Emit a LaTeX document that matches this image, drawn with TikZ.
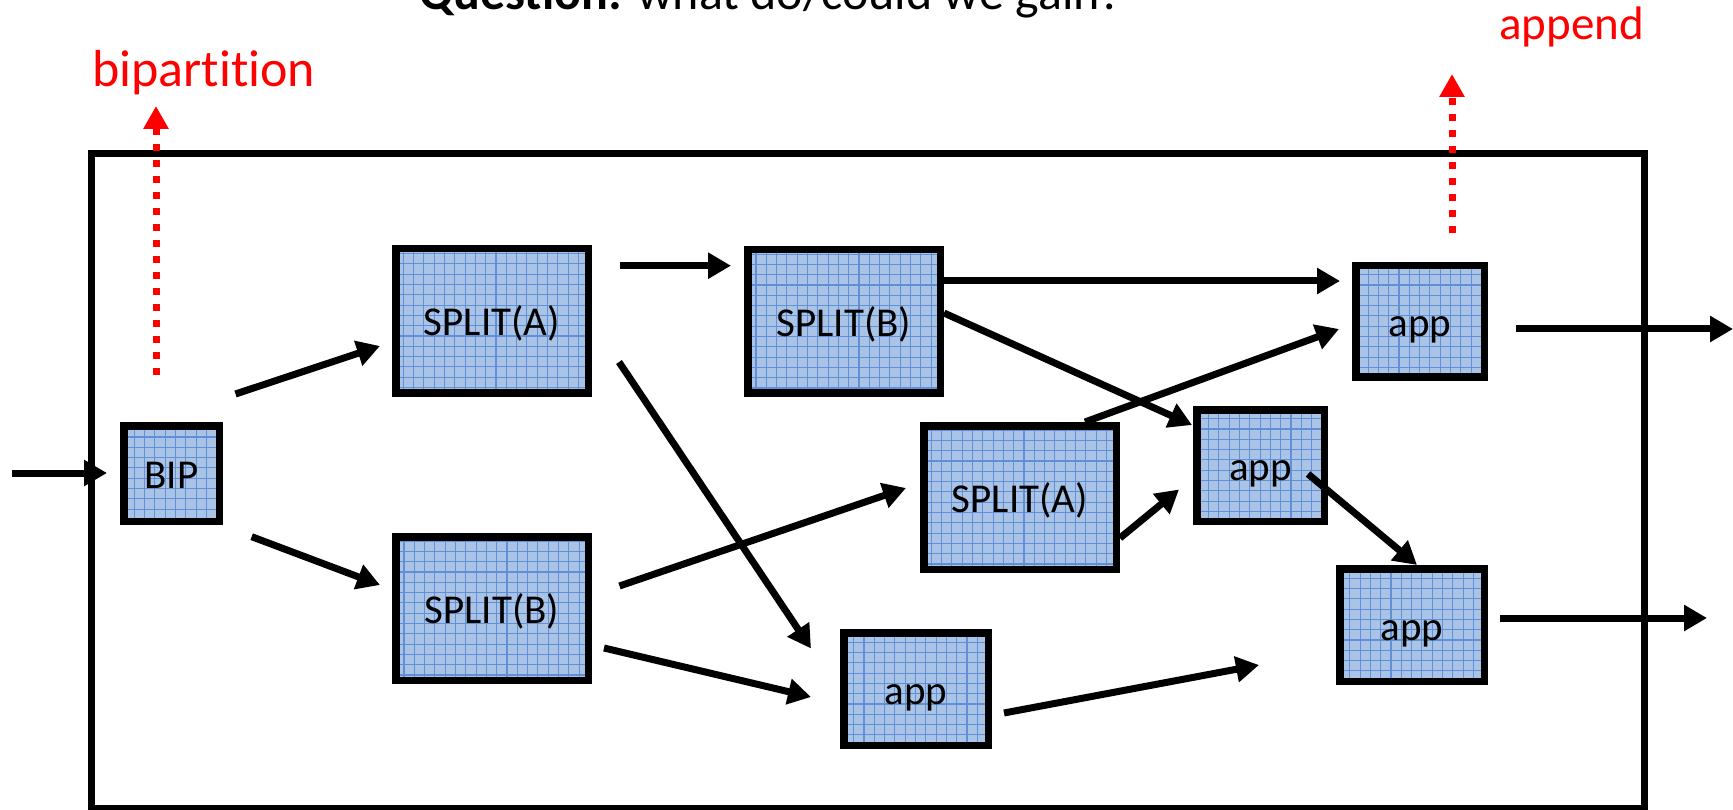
\documentclass[tikz,border=0pt]{standalone}
\usepackage{fontspec}
\setmainfont{Carlito}[Ligatures=NoCommon]
\usetikzlibrary{arrows.meta}
\definecolor{boxfill}{RGB}{170,196,231}
\definecolor{boxgrid}{RGB}{98,144,212}
\begin{document}
\begin{tikzpicture}[x=1pt,y=-1pt,
  opbox/.style={draw=black, line width=7.5pt, fill=boxfill, inner sep=0pt,
    font=\fontsize{41}{41}\selectfont, text height=38pt, text depth=8pt,
    path picture={\draw[boxgrid, line width=1.1pt, step=10.3pt]
      (path picture bounding box.south west) grid (path picture bounding box.north east);}},
  splitbox/.style={opbox, minimum width=192.5pt, minimum height=143.5pt},
  appbox/.style={opbox, minimum width=144.5pt, minimum height=112.5pt},
  flow/.style={line width=7pt, -{Triangle[length=23pt,width=25pt]}},
  hint/.style={red, line width=7pt, dash pattern=on 7pt off 9pt,
    -{Triangle[length=23pt,width=24pt]}},
  note/.style={red, inner sep=0pt, anchor=base west}]

% canvas
\useasboundingbox (0,0) rectangle (1733,810);
\fill[white] (0,0) rectangle (1733,810);

% heading, running off the top edge
\node[anchor=base west, inner sep=0pt, font=\fontsize{50}{50}\selectfont] (question)
  at (419,9.5) {\textbf{Question:} what do/could we gain?};

% enclosing frame
\draw[line width=7.5pt] (91.5,153.5) rectangle (1644.5,808.5);

% operator boxes
\node[opbox, minimum width=95.5pt, minimum height=95.5pt] (bip) at (171.5,473.5) {BIP};
\node[splitbox, minimum height=144.5pt] (sa1) at (492,321) {SPLIT(A)};
\node[splitbox] (sb1) at (844,321.5) {SPLIT(B)};
\node[splitbox] (sb2) at (492,608.5) {SPLIT(B)};
\node[splitbox] (sa2) at (1020,497.5) {SPLIT(A)};
\node[opbox, minimum width=127.5pt, minimum height=111.5pt] (appm) at (1260.5,465.5) {app};
\node[opbox, minimum width=128.5pt, minimum height=111.5pt] (apptr) at (1420,321.5) {app};
\node[appbox] (appbr) at (1412,625) {app};
\node[appbox] (appb) at (916,689) {app};

% data flow
\coordinate (inlet) at (12,473);
\draw[flow] (inlet) -- ([shift={(-13,-0.5)}]bip.west);
\draw[flow] ([shift={(12.5,-28)}]bip.north east) -- ([shift={(-12,25)}]sa1.west);
\draw[flow] ([shift={(28.7,11.7)}]bip.south east) -- ([shift={(-12,-23.5)}]sb2.west);
\draw[flow] ([shift={(27.5,20.7)}]sa1.north east) -- ([shift={(-13,19.7)}]sb1.north west);
\draw[flow] ([shift={(27,41)}]sa1.east) -- ([shift={(-29,19.5)}]appb.north west);
\draw[flow] ([shift={(0,35)}]sb1.north east) -- ([shift={(-12,19)}]apptr.north west);
\draw[flow] ([shift={(0,-8.5)}]sb1.east) -- ([shift={(-1,19)}]appm.north west);
\draw[flow] ([shift={(65,0)}]sa2.north) -- ([shift={(-13,7.5)}]apptr.west);
\draw[flow] ([shift={(0,40.5)}]sa2.east) -- ([shift={(-14,24)}]appm.west);
\draw[flow] ([shift={(47.5,8.5)}]appm.center) -- ([shift={(5,0)}]appbr.north);
\draw[flow] ([shift={(27.5,-22.5)}]sb2.east) -- ([shift={(-14,-9.5)}]sa2.west);
\draw[flow] ([shift={(12,39.5)}]sb2.east) -- ([shift={(-29,8)}]appb.west);
\coordinate (loose) at (1259,665);
\draw[flow] ([shift={(12,24)}]appb.east) -- (loose);
\coordinate (outtop) at (1733,329);
\draw[flow] ([shift={(28,7.5)}]apptr.east) -- (outtop);
\coordinate (outbot) at (1707,618);
\draw[flow] ([shift={(12,-7)}]appbr.east) -- (outbot);

% red annotations
\node[note, font=\fontsize{52}{52}\selectfont] (bipl) at (92,86.7) {bipartition};
\coordinate (biptip) at (156,106);
\draw[hint] ([shift={(-15.5,-47)}]bip.north) -- (biptip);
\node[note, font=\fontsize{47}{47}\selectfont] (appl) at (1499,40) {append};
\coordinate (apptip) at (1452,74);
\draw[hint] ([shift={(32,-29)}]apptr.north) -- (apptip);
\end{tikzpicture}
\end{document}
